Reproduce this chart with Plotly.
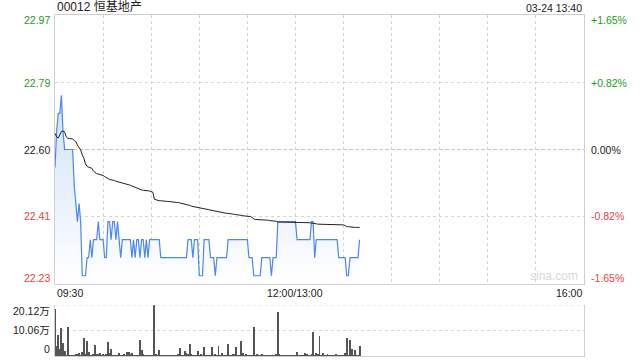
import plotly.graph_objects as go

title_text = "00012 恒基地产"
time_text = "03-24 13:40"
prev_close = 22.60
pct_levels = [1.65, 0.82, 0.0, -0.82, -1.65]
left_labels = ["22.97", "22.79", "22.60", "22.41", "22.23"]
right_labels = ["+1.65%", "+0.82%", "0.00%", "-0.82%", "-1.65%"]
label_colors = ["#1a9e1a", "#1a9e1a", "#222222", "#f03c3c", "#f03c3c"]
x_tick_labels = ["09:30", "12:00/13:00", "16:00"]
x_tick_pos = [0, 150, 330]
vol_tick_vals = [0, 10.06, 20.12]
vol_tick_text = ["0", "10.06万", "20.12万"]

price = [
    22.55, 22.65, 22.70, 22.70, 22.75, 22.65, 22.60, 22.60, 22.60, 22.60,
    22.60, 22.60, 22.50, 22.45, 22.40, 22.45, 22.40, 22.25, 22.25, 22.25,
    22.30, 22.30, 22.35, 22.30, 22.35, 22.35, 22.35, 22.40, 22.35, 22.35,
    22.35, 22.30, 22.30, 22.40, 22.40, 22.35, 22.40, 22.40, 22.35, 22.40,
    22.35, 22.30, 22.35, 22.35, 22.35, 22.35, 22.35, 22.35, 22.30, 22.35,
    22.30, 22.35, 22.35, 22.30, 22.35, 22.35, 22.30, 22.35, 22.30, 22.35,
    22.35, 22.35, 22.35, 22.35, 22.35, 22.35, 22.30, 22.30, 22.30, 22.30,
    22.30, 22.30, 22.30, 22.30, 22.30, 22.30, 22.30, 22.30, 22.30, 22.30,
    22.30, 22.30, 22.30, 22.35, 22.35, 22.35, 22.30, 22.35, 22.35, 22.35,
    22.25, 22.25, 22.25, 22.35, 22.35, 22.35, 22.35, 22.30, 22.30, 22.30,
    22.25, 22.30, 22.30, 22.30, 22.30, 22.30, 22.30, 22.30, 22.35, 22.35,
    22.35, 22.35, 22.35, 22.35, 22.35, 22.35, 22.35, 22.35, 22.35, 22.35,
    22.35, 22.30, 22.30, 22.30, 22.25, 22.25, 22.25, 22.25, 22.25, 22.30,
    22.30, 22.30, 22.30, 22.30, 22.30, 22.25, 22.30, 22.30, 22.30, 22.40,
    22.40, 22.40, 22.40, 22.40, 22.40, 22.40, 22.40, 22.40, 22.40, 22.40,
    22.40, 22.35, 22.35, 22.35, 22.35, 22.35, 22.35, 22.35, 22.35, 22.35,
    22.40, 22.40, 22.30, 22.35, 22.35, 22.35, 22.35, 22.35, 22.35, 22.35,
    22.35, 22.35, 22.35, 22.35, 22.35, 22.35, 22.35, 22.30, 22.30, 22.30,
    22.30, 22.30, 22.25, 22.25, 22.30, 22.30, 22.30, 22.30, 22.30, 22.30, 22.35,
]

avg_price = [
    22.645, 22.635, 22.632, 22.640, 22.650, 22.651, 22.649, 22.635, 22.631, 22.631,
    22.631, 22.629, 22.625, 22.622, 22.612, 22.605, 22.599, 22.585, 22.576, 22.560,
    22.553, 22.551, 22.550, 22.548, 22.540, 22.535, 22.533, 22.532, 22.531, 22.530,
    22.528, 22.525, 22.522, 22.518, 22.517, 22.516, 22.516, 22.514, 22.512, 22.511,
    22.510, 22.509, 22.508, 22.507, 22.506, 22.504, 22.502, 22.501, 22.499, 22.497,
    22.494, 22.492, 22.490, 22.488, 22.488, 22.487, 22.487, 22.487, 22.487, 22.485,
    22.483, 22.482, 22.462, 22.460, 22.459, 22.458, 22.458, 22.457, 22.457, 22.457,
    22.456, 22.456, 22.455, 22.455, 22.454, 22.454, 22.453, 22.453, 22.452, 22.451,
    22.450, 22.450, 22.449, 22.447, 22.445, 22.443, 22.442, 22.441, 22.440, 22.440,
    22.439, 22.437, 22.436, 22.435, 22.434, 22.433, 22.432, 22.431, 22.430, 22.429,
    22.428, 22.428, 22.427, 22.426, 22.425, 22.425, 22.424, 22.423, 22.423, 22.423,
    22.422, 22.421, 22.420, 22.419, 22.418, 22.418, 22.417, 22.417, 22.416, 22.416,
    22.416, 22.415, 22.414, 22.412, 22.407, 22.406, 22.406, 22.406, 22.405, 22.405,
    22.405, 22.404, 22.404, 22.404, 22.403, 22.403, 22.403, 22.402, 22.401, 22.399,
    22.399, 22.399, 22.399, 22.399, 22.399, 22.399, 22.399, 22.399, 22.399, 22.399,
    22.399, 22.399, 22.399, 22.399, 22.399, 22.398, 22.398, 22.398, 22.397, 22.397,
    22.396, 22.396, 22.395, 22.394, 22.393, 22.393, 22.393, 22.393, 22.393, 22.393,
    22.393, 22.393, 22.393, 22.392, 22.392, 22.392, 22.392, 22.391, 22.391, 22.391,
    22.391, 22.389, 22.386, 22.386, 22.385, 22.385, 22.385, 22.384, 22.384, 22.384, 22.384,
]

volume_wan = [
    18.5, 4.0, 8.4, 2.7, 10.9, 5.0, 2.0, 0.4, 11.3, 0.3,
    0.2, 0.3, 0.5, 0.8, 0.6, 1.0, 0.5, 1.6, 7.0, 0.8,
    6.0, 1.7, 0.3, 0.2, 0.6, 4.4, 0.9, 0.8, 1.2, 0.5,
    0.7, 0.4, 0.6, 5.6, 1.0, 2.8, 0.3, 0.2, 0.3, 0.4,
    1.2, 0.3, 0.4, 0.9, 0.3, 1.6, 1.6, 0.8, 1.1, 0.5,
    0.4, 0.2, 0.5, 6.4, 2.2, 0.6, 0.5, 0.4, 0.3, 0.2,
    0.2, 0.3, 20.12, 0.6, 0.4, 2.4, 0.2, 0.3, 0.2, 0.4,
    0.2, 0.5, 0.3, 0.2, 0.5, 0.4, 0.3, 0.8, 3.2, 0.4,
    0.3, 1.8, 1.0, 0.6, 4.8, 0.7, 0.3, 0.5, 0.2, 1.8,
    0.4, 0.8, 0.5, 3.6, 0.4, 0.3, 0.2, 0.4, 3.6, 0.4,
    0.8, 0.4, 4.0, 0.3, 1.0, 0.5, 0.4, 0.5, 4.8, 0.3,
    0.2, 0.6, 0.8, 3.6, 0.5, 0.4, 6.0, 1.0, 0.5, 0.6,
    0.3, 0.4, 0.3, 0.5, 11.3, 0.3, 0.6, 0.3, 0.4, 0.8,
    0.3, 0.4, 0.2, 0.3, 0.1, 0.4, 0.3, 0.5, 0.6, 17.3,
    0.6, 0.4, 0.3, 0.2, 0.4, 0.3, 0.2, 0.5, 0.3, 0.4,
    0.3, 1.6, 0.4, 0.2, 0.5, 0.3, 1.0, 0.6, 0.4, 0.3,
    0.8, 9.3, 0.5, 1.2, 0.6, 8.0, 0.5, 1.0, 0.3, 0.4,
    0.7, 0.3, 0.5, 0.4, 0.3, 0.8, 0.3, 0.5, 0.2, 0.4,
    0.3, 1.2, 7.2, 0.4, 6.4, 2.8, 0.4, 2.4, 0.3, 0.5, 4.0,
]

minutes = list(range(len(price)))
levels = [prev_close * (1 + p / 100) for p in pct_levels]
y_top, y_bot = levels[0], levels[-1]

FONT = "Liberation Sans, Arial, Noto Sans CJK SC, sans-serif"
GRID = "#d4d4d4"
BORDER = "#cfcfcf"

fig = go.Figure()

fig.add_trace(go.Scatter(
    x=minutes, y=price, mode="lines",
    line=dict(color="#4a88ee", width=1.2),
    fill="tozeroy",
    fillgradient=dict(type="vertical",
                      colorscale=[[0, "rgba(255,255,255,1)"], [1, "rgba(208,224,248,1)"]],
                      start=y_bot, stop=max(price)),
    xaxis="x", yaxis="y", hoverinfo="skip",
))
fig.add_trace(go.Scatter(
    x=minutes, y=avg_price, mode="lines",
    line=dict(color="#222222", width=1),
    xaxis="x", yaxis="y", hoverinfo="skip",
))
fig.add_trace(go.Bar(
    x=minutes, y=volume_wan, width=0.6,
    marker=dict(color="#555555", line=dict(width=0)),
    xaxis="x2", yaxis="y2", hoverinfo="skip",
))

fig.update_layout(
    width=640, height=360,
    margin=dict(l=55, r=56, t=15, b=4),
    paper_bgcolor="white", plot_bgcolor="white",
    showlegend=False,
    font=dict(family=FONT, size=11, color="#222"),
    xaxis=dict(domain=[0, 1], range=[0, 330], tickvals=list(range(30, 330, 30)),
               showticklabels=False, ticks="", showgrid=True, gridcolor=GRID, griddash="dot",
               gridwidth=1, showline=True, linecolor=BORDER, mirror=True, zeroline=False,
               fixedrange=True),
    yaxis=dict(domain=[0.2111, 1], range=[y_bot, y_top], tickvals=[levels[1], levels[3]],
               showticklabels=False, ticks="", showgrid=True, gridcolor=GRID, griddash="dot",
               showline=True, linecolor=BORDER, mirror=True, zeroline=False),
    xaxis2=dict(domain=[0, 1], range=[0, 330], anchor="y2", showticklabels=False, ticks="",
                showgrid=False, showline=True, linecolor=BORDER, zeroline=False),
    yaxis2=dict(domain=[0, 0.1496], range=[0, vol_tick_vals[-1]], anchor="x2",
                tickvals=vol_tick_vals[1:], showticklabels=False, ticks="",
                showgrid=True, gridcolor=GRID, griddash="dot",
                showline=True, linecolor=BORDER, mirror=True, zeroline=False),
    bargap=0,
)

# center (previous close) line
fig.add_shape(type="line", xref="paper", yref="y", x0=0, x1=1, y0=levels[2], y1=levels[2],
              line=dict(color="#c4c4c4", width=1, dash="4px,2px"), layer="below")
# top dotted line of volume panel
fig.add_shape(type="line", xref="paper", yref="y2", x0=0, x1=1,
              y0=vol_tick_vals[-1], y1=vol_tick_vals[-1],
              line=dict(color=GRID, width=1, dash="dot"))

anns = []
shifts = [-5, 0, 0, 0, 6]
for lv, lt, rt, c, s in zip(levels, left_labels, right_labels, label_colors, shifts):
    anns.append(dict(xref="paper", yref="y", x=0, y=lv, text=lt, showarrow=False,
                     xanchor="right", yanchor="middle", xshift=-3, yshift=s,
                     font=dict(size=10.5, color=c, family=FONT)))
    anns.append(dict(xref="paper", yref="y", x=1, y=lv, text=rt, showarrow=False,
                     xanchor="left", yanchor="middle", xshift=5, yshift=s,
                     font=dict(size=10.5, color=c, family=FONT)))

vol_shifts = [7, 0, -6]
for v, t, s in zip(vol_tick_vals, vol_tick_text, vol_shifts):
    anns.append(dict(xref="paper", yref="y2", x=0, y=v, text=t, showarrow=False,
                     xanchor="right", yanchor="middle", xshift=-3, yshift=s,
                     font=dict(size=10.5, color="#222", family=FONT)))

x_anchors = ["left", "center", "right"]
for pos, lab, xa in zip(x_tick_pos, x_tick_labels, x_anchors):
    anns.append(dict(xref="x", yref="paper", x=pos, y=0.2111, text=lab, showarrow=False,
                     xanchor=xa, yanchor="top", yshift=-1,
                     font=dict(size=10.5, color="#222", family=FONT)))

anns.append(dict(xref="paper", yref="paper", x=0, y=1, text=title_text, showarrow=False,
                 xanchor="left", yanchor="bottom", yshift=-1,
                 font=dict(size=12, color="#222", family=FONT)))
anns.append(dict(xref="paper", yref="paper", x=1, y=1, text=time_text, showarrow=False,
                 xanchor="right", yanchor="bottom", yshift=-1,
                 font=dict(size=10.5, color="#222", family=FONT)))
anns.append(dict(xref="paper", yref="paper", x=1, y=0.2111, text="sina.com", showarrow=False,
                 xanchor="right", yanchor="bottom", xshift=-4, yshift=-1,
                 font=dict(size=12, color="#d8d8d8", family=FONT)))

fig.update_layout(annotations=anns)
fig.write_html("out.html")
